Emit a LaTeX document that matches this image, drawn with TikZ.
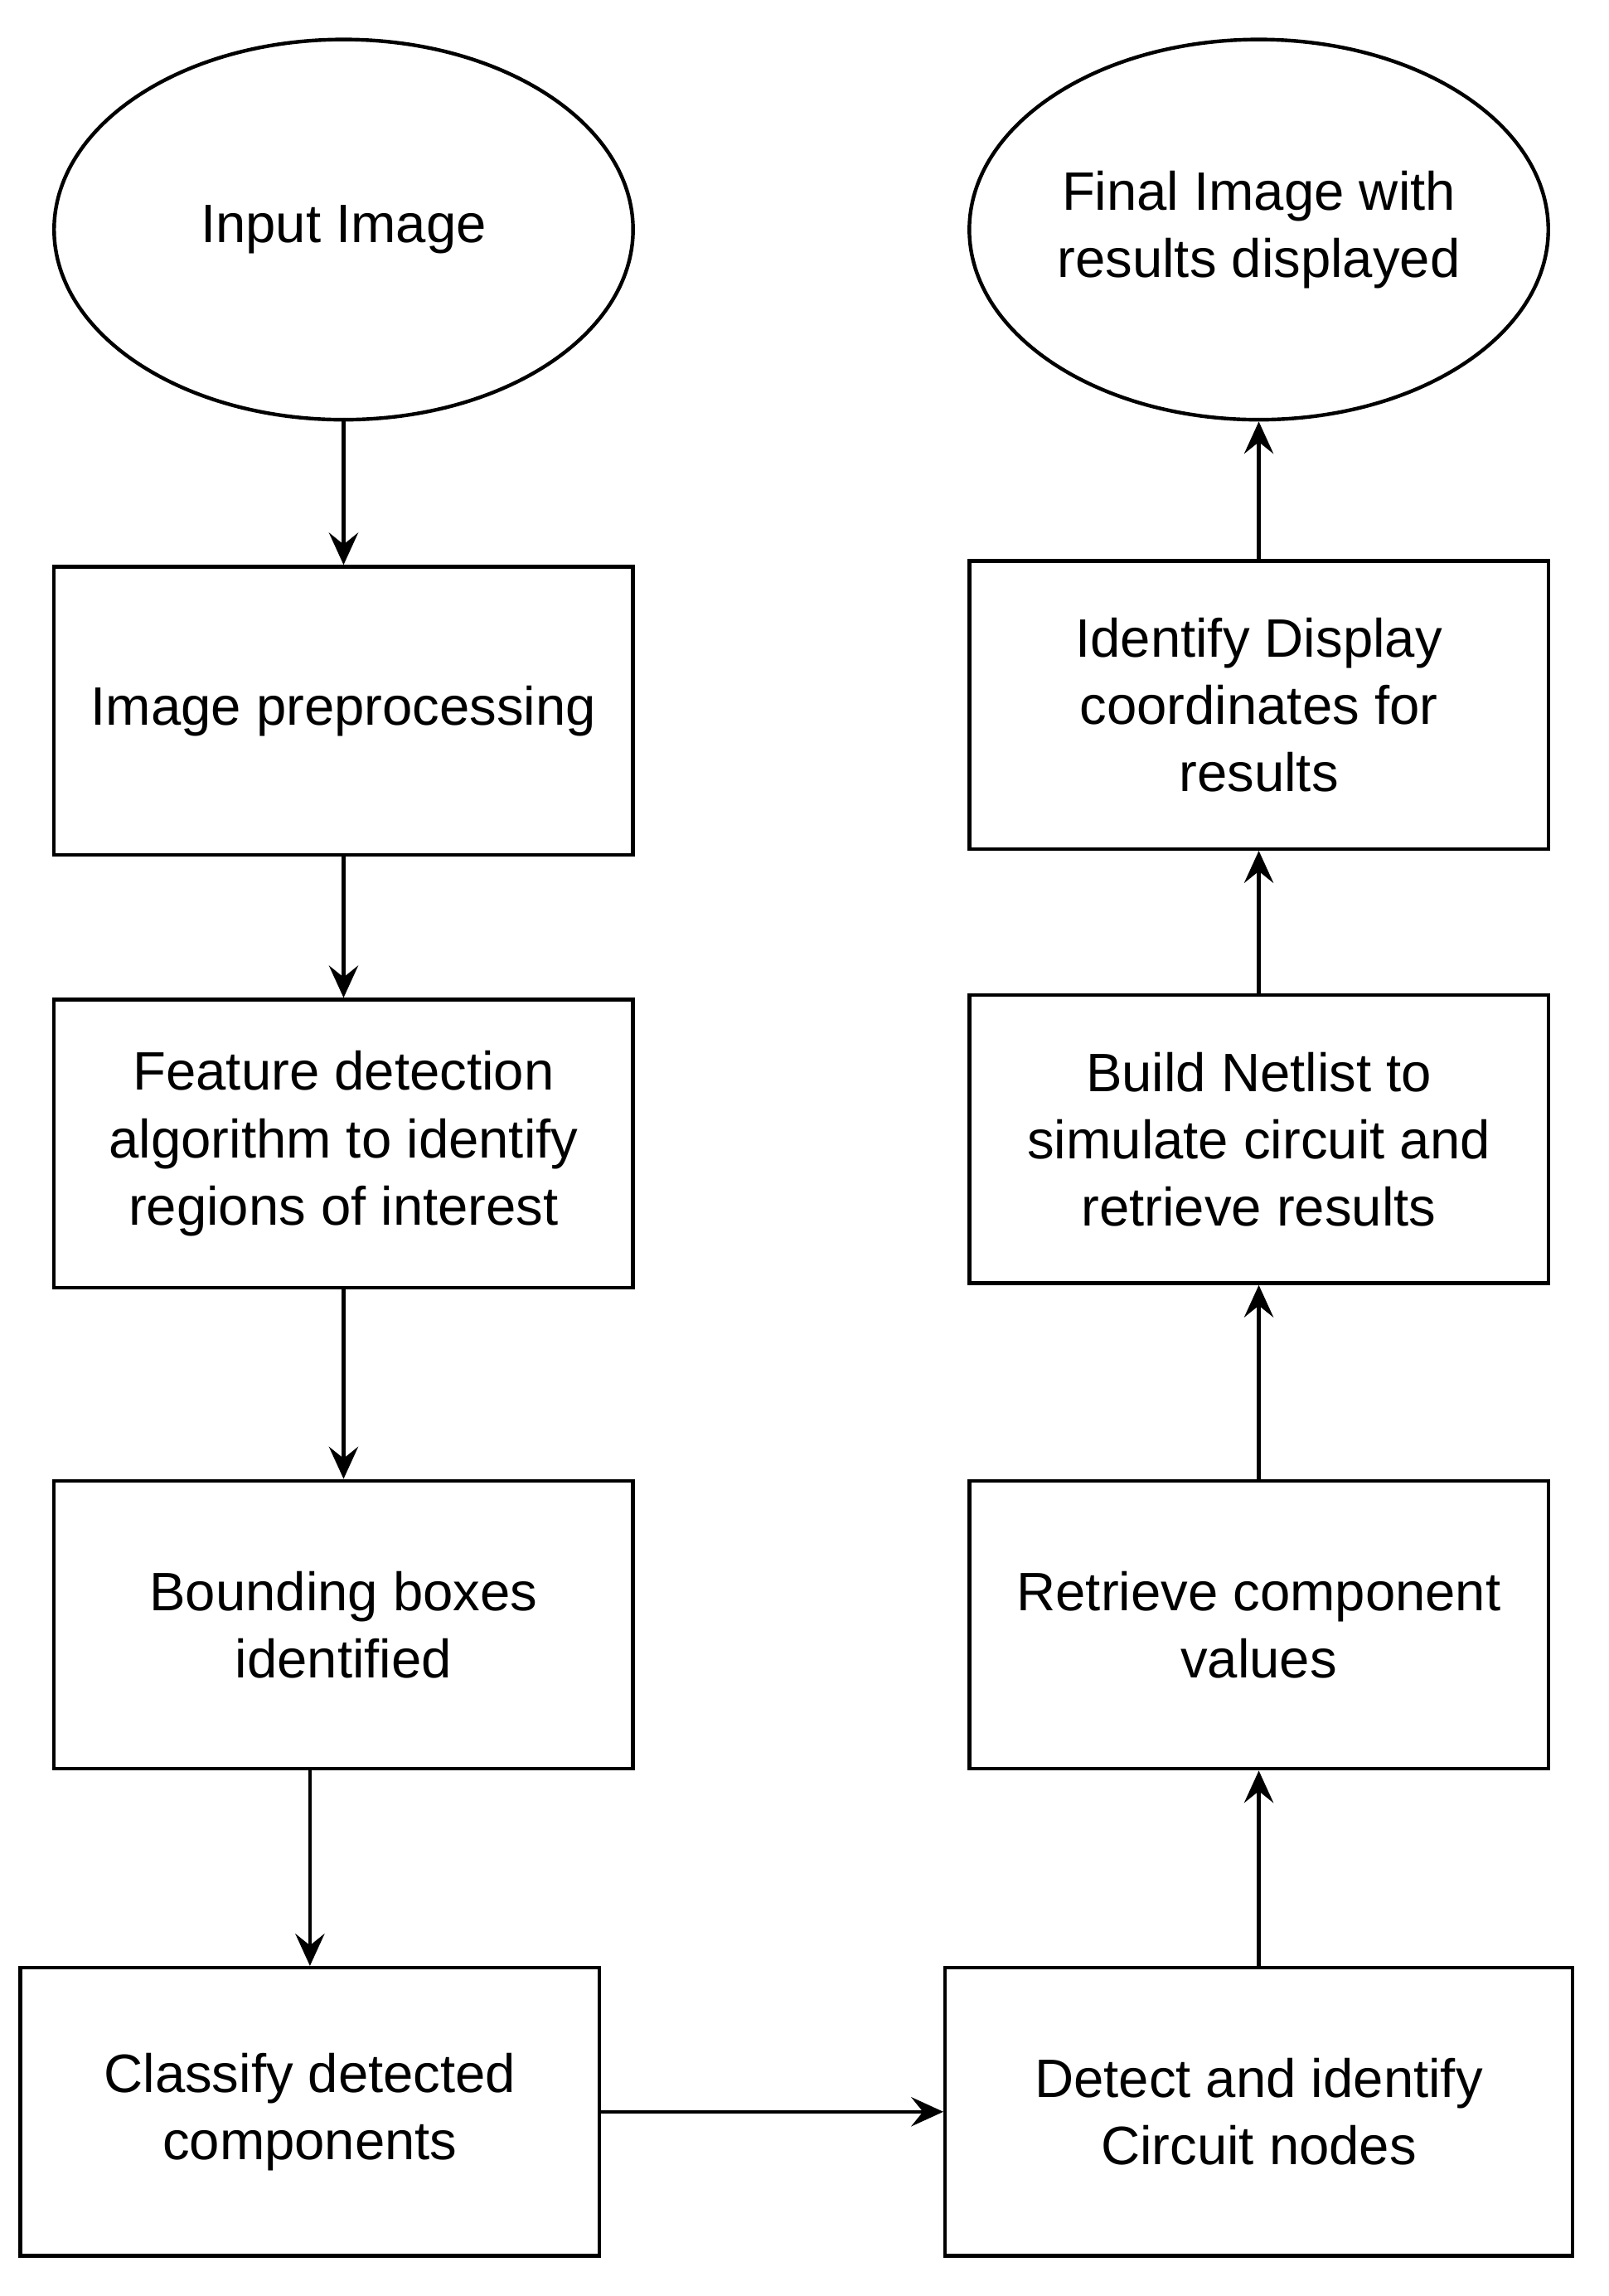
\documentclass[tikz,border=0pt]{standalone}
\usepackage{fontspec}
\setmainfont{Liberation Sans}
\usetikzlibrary{shapes.geometric,arrows.meta}
\begin{document}
\begin{tikzpicture}[x=1pt,y=-1pt,
  every node/.style={font=\fontsize{37}{46}\selectfont, align=center, line width=2.5pt, draw},
  box/.style={rectangle, minimum width=396pt, minimum height=197pt, inner sep=2pt},
  ell/.style={ellipse, minimum width=396pt, minimum height=260pt, inner sep=0pt},
  arr/.style={line width=2.5pt, -{Stealth[length=22pt,width=20pt,inset=8pt]}}]
\useasboundingbox (0,0) rectangle (1100,1570);
\node[ell] (in) at (235,157) {Input Image};
\node[box] (pre) at (235,486) {Image preprocessing};
\node[box] (feat) at (235,782) {Feature detection\\algorithm to identify\\regions of interest};
\node[box] (bb) at (235,1111) {Bounding boxes\\identified};
\node[box] (cls) at (212,1444) {Classify detected\\components};
\node[box, minimum width=429pt] (det) at (861,1444) {Detect and identify\\Circuit nodes};
\node[box] (ret) at (861,1111) {Retrieve component\\values};
\node[box] (net) at (861,779) {Build Netlist to\\simulate circuit and\\retrieve results};
\node[box] (idc) at (861,482) {Identify Display\\coordinates for\\results};
\node[ell] (fin) at (861,157) {Final Image with\\results displayed};
\draw[arr] (in) -- (pre);
\draw[arr] (pre) -- (feat);
\draw[arr] (feat) -- (bb);
\draw[arr] (212,1210) -- (cls);
\draw[arr] (cls) -- (det);
\draw[arr] (det) -- (ret);
\draw[arr] (ret) -- (net);
\draw[arr] (net) -- (idc);
\draw[arr] (idc) -- (fin);
\end{tikzpicture}
\end{document}
